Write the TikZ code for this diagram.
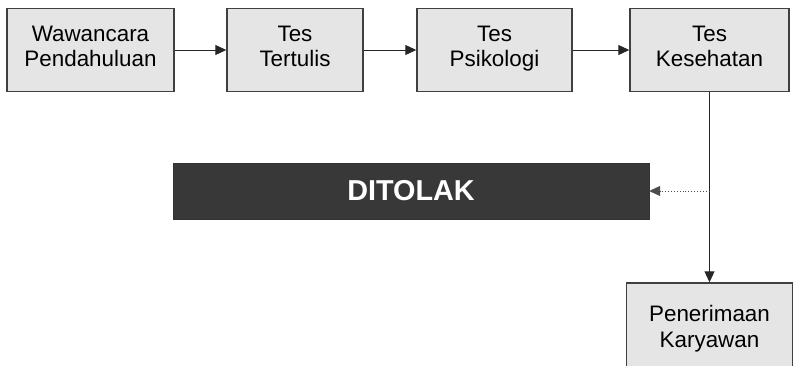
\documentclass[tikz,border=0pt]{standalone}
\usepackage{fontspec}
\setmainfont{Liberation Sans}
\usepackage{tikz}
\usetikzlibrary{arrows.meta}

\begin{document}
\begin{tikzpicture}[x=1pt,y=-1pt,
  stage/.style={draw=black!75,line width=1.4pt,fill=black!10,minimum height=83pt,
    align=center,inner sep=0pt,font=\fontsize{22.4}{25.5}\selectfont,
    execute at begin node=\strut,execute at end node=\strut},
  flow/.style={line width=0.9pt,draw=black!85,-{Triangle[length=11pt,width=10pt]}}]
  \clip (0,0) rectangle (793,365);
  \node[stage,minimum width=167pt] (W) at (90.5,50) {Wawancara\\Pendahuluan};
  \node[stage,minimum width=136pt] (T) at (295,50) {Tes\\Tertulis};
  \node[stage,minimum width=155pt] (P) at (494.5,50) {Tes\\Psikologi};
  \node[stage,minimum width=159pt] (K) at (709.5,50) {Tes\\Kesehatan};
  \node[stage,minimum width=166pt,minimum height=94pt] (R) at (709.5,330) {Penerimaan\\Karyawan};
  \node[fill=black!78,draw=black!80,minimum width=476pt,minimum height=56pt,inner sep=0pt,
    text=white,font=\fontsize{28.8}{30}\selectfont\bfseries] (D) at (411,191) {DITOLAK};
  \coordinate (S) at (709.5,191);
  \draw[flow] (W) -- (T);
  \draw[flow] (T) -- (P);
  \draw[flow] (P) -- (K);
  \draw[flow] (K) -- (R);
  \draw[flow,dotted,draw=black!70] (S) -- (D);
\end{tikzpicture}
\end{document}
